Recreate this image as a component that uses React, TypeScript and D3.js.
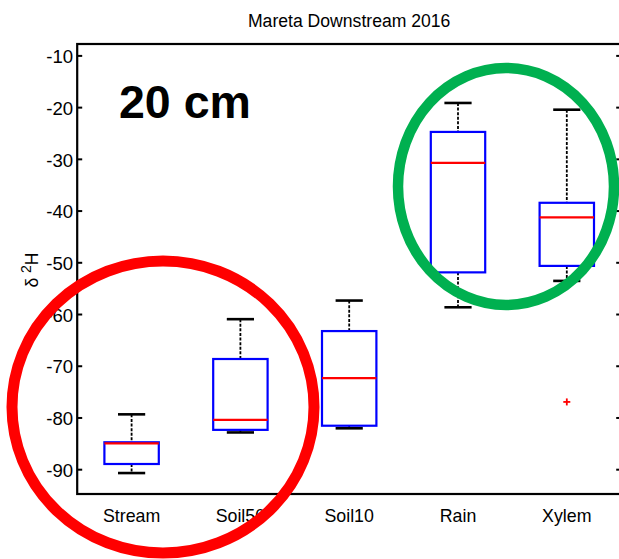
import React from "react";
import * as d3 from "d3";

// Box-plot statistics of δ²H per source
const categories = ["Stream", "Soil50", "Soil10", "Rain", "Xylem"];
const lowerWhisker = [-90.65, -82.8, -82.0, -58.6, -53.5];
const q1 = [-88.9, -82.3, -81.5, -51.85, -50.6];
const median = [-84.9, -80.35, -72.3, -30.7, -41.2];
const q3 = [-84.7, -68.6, -63.2, -24.7, -38.4];
const upperWhisker = [-79.3, -60.9, -57.3, -19.1, -20.4];
const outliers: [string, number][] = [["Xylem", -76.9]];
const yTicks = [-10, -20, -30, -40, -50, -60, -70, -80, -90];

const W = 619;
const H = 559;
const left = 77.2;
const right = 621.2;
const top = 44;
const bottom = 494;
const font = "'Liberation Sans', Arial, Helvetica, sans-serif";

export default function App() {
  const x = d3
    .scaleLinear()
    .domain([0.5, categories.length + 0.5])
    .range([left, right]);
  const y = d3.scaleLinear().domain([-94.7, -7.7]).range([bottom, top]);
  const step = x(2) - x(1);
  const boxW = step * 0.5;
  const capW = boxW * 0.5;

  return (
    <svg
      width={W}
      height={H}
      style={{ position: "absolute", left: 0, top: 0, background: "#fff" }}
      fontFamily={font}
    >
      <rect x={0} y={0} width={W} height={H} fill="#fff" />
      {/* title */}
      <text
        x={(left + right) / 2}
        y={27.3}
        textAnchor="middle"
        fontSize={17.6}
        fill="#000"
      >
        Mareta Downstream 2016
      </text>

      {/* boxes */}
      {categories.map((c, i) => {
        const cx = x(i + 1);
        return (
          <g key={c}>
            <line
              x1={cx}
              x2={cx}
              y1={y(upperWhisker[i])}
              y2={y(q3[i])}
              stroke="#000"
              strokeWidth={1.8}
              strokeDasharray="3,1.6"
            />
            <line
              x1={cx}
              x2={cx}
              y1={y(q1[i])}
              y2={y(lowerWhisker[i])}
              stroke="#000"
              strokeWidth={1.8}
              strokeDasharray="3,1.6"
            />
            <line
              x1={cx - capW / 2}
              x2={cx + capW / 2}
              y1={y(upperWhisker[i])}
              y2={y(upperWhisker[i])}
              stroke="#000"
              strokeWidth={2.6}
            />
            <line
              x1={cx - capW / 2}
              x2={cx + capW / 2}
              y1={y(lowerWhisker[i])}
              y2={y(lowerWhisker[i])}
              stroke="#000"
              strokeWidth={2.6}
            />
            <rect
              x={cx - boxW / 2}
              y={y(q3[i])}
              width={boxW}
              height={y(q1[i]) - y(q3[i])}
              fill="none"
              stroke="#0000ff"
              strokeWidth={2.2}
            />
            <line
              x1={cx - boxW / 2}
              x2={cx + boxW / 2}
              y1={y(median[i])}
              y2={y(median[i])}
              stroke="#ff0000"
              strokeWidth={2.2}
            />
          </g>
        );
      })}

      {/* outliers */}
      {outliers.map(([c, v], k) => {
        const cx = x(categories.indexOf(c) + 1);
        const cy = y(v);
        return (
          <g key={k} stroke="#ff0000" strokeWidth={1.8}>
            <line x1={cx - 3.5} x2={cx + 3.5} y1={cy} y2={cy} />
            <line x1={cx} x2={cx} y1={cy - 3.5} y2={cy + 3.5} />
          </g>
        );
      })}

      {/* axes frame */}
      <rect
        x={left}
        y={top}
        width={right - left}
        height={bottom - top}
        fill="none"
        stroke="#000"
        strokeWidth={2.2}
      />
      {yTicks.map((t) => (
        <g key={t}>
          <line x1={left} x2={left + 5} y1={y(t)} y2={y(t)} stroke="#000" strokeWidth={2} />
          <line x1={right - 5} x2={right} y1={y(t)} y2={y(t)} stroke="#000" strokeWidth={2} />
          <text
            x={left - 4}
            y={y(t) + 7.2}
            textAnchor="end"
            fontSize={18.6}
            fill="#000"
          >
            {t}
          </text>
        </g>
      ))}
      {categories.map((c, i) => (
        <text
          key={c}
          x={x(i + 1)}
          y={522}
          textAnchor="middle"
          fontSize={17.8}
          fill="#000"
        >
          {c}
        </text>
      ))}

      {/* y-axis label */}
      <text
        transform="translate(38,270) rotate(-90)"
        textAnchor="middle"
        fontSize={17.5}
        fill="#000"
      >
        δ <tspan dy={-7} fontSize={14}>2</tspan>
        <tspan dy={7}>H</tspan>
      </text>

      {/* depth label */}
      <text x={119} y={118} fontSize={46.5} fontWeight="bold" fill="#000">
        20 cm
      </text>

      {/* highlight rings */}
      <ellipse cx={163} cy={407} rx={151} ry={146} fill="none" stroke="#ff0000" strokeWidth={11} />
      <ellipse cx={506} cy={186.5} rx={108} ry={118.5} fill="none" stroke="#00b050" strokeWidth={10.5} />
    </svg>
  );
}
